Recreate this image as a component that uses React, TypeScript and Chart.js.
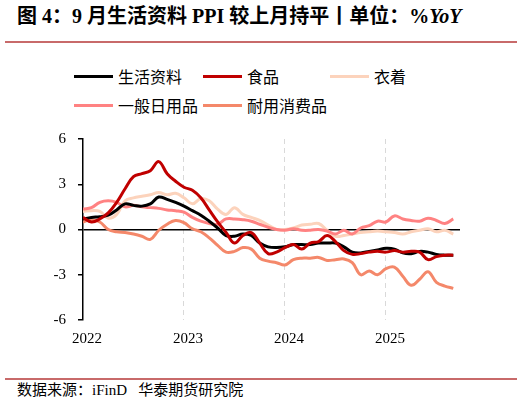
import { useEffect, useRef } from "react";
import Chart from "chart.js/auto";

// Jan 2022 .. Sep 2025, monthly
const months = Array.from({ length: 45 }, (_, i) => i);
const yearTicks = ["2022", "2023", "2024", "2025"];

const living = [
  0.7, 0.8, 0.85, 0.95, 1.3, 1.7, 1.6, 1.55, 1.7, 2.15, 2.0, 1.8,
  1.55, 1.25, 0.95, 0.55, 0.1, -0.4, -0.45, -0.3, -0.4, -0.9, -1.15, -1.2,
  -1.15, -1.0, -1.0, -1.0, -0.9, -0.9, -0.9, -1.15, -1.5, -1.55, -1.45, -1.35,
  -1.25, -1.3, -1.55, -1.6, -1.45, -1.5, -1.65, -1.7, -1.7,
];
const food = [
  0.8, 0.5, 0.7, 1.1, 1.8, 2.7, 3.5, 3.7, 3.9, 4.5, 3.7, 3.2,
  2.8, 2.6, 2.1, 1.3, 0.5, -0.2, -0.9, -0.4, -0.2, -0.9, -1.6, -1.5,
  -1.2, -1.0, -1.3, -0.9, -0.8, -0.4, -0.8, -1.4, -1.65, -1.6, -1.5, -1.45,
  -1.5, -1.4, -1.5, -1.45, -1.5, -2.0, -1.8, -1.7, -1.7,
];
const clothing = [
  1.2, 1.25, 1.2, 0.75, 1.0, 1.9, 2.1, 2.2, 2.3, 2.45, 2.3, 2.4,
  2.1, 1.7, 2.05, 1.9, 1.35, 1.0, 1.45, 1.0, 0.8, 0.6, 0.3, 0.0,
  0.0, 0.1, 0.3, 0.35, 0.4, -0.05, -0.45, -0.4, -0.3, -0.2, -0.15, -0.1,
  -0.15, -0.2, -0.3, -0.15, -0.05, 0.05, -0.15, -0.05, -0.3,
];
const daily = [
  1.35, 1.45, 1.8, 1.9, 1.8, 1.5, 1.6, 1.5, 1.45, 1.4, 1.3, 1.25,
  1.15, 0.8, 0.55, 0.4, 0.35, 0.7, 0.7, 0.65, 0.55, 0.35, 0.15, 0.0,
  -0.05, 0.05, -0.05, -0.05, 0.0, -0.1, -0.3, -0.05, -0.3, 0.1, 0.25, 0.55,
  0.5, 0.9, 0.7, 0.6, 0.55, 0.75, 0.6, 0.4, 0.7,
];
const durable = [
  0.5, 0.65, 0.5, 0.0, -0.15, -0.2, -0.3, -0.45, -0.65, -0.05, 0.35, 0.6,
  0.45, 0.05, -0.15, -0.55, -1.05, -1.5, -1.45, -1.2, -1.3, -1.9, -2.1, -2.2,
  -2.35, -2.0, -1.9, -1.9, -1.85, -2.05, -2.0, -1.95, -2.2, -3.0, -2.75, -3.0,
  -2.6, -2.5, -3.1, -3.7, -3.3, -2.8, -3.5, -3.75, -3.9,
];

const series = [
  { label: "生活资料", data: living, color: "#000000" },
  { label: "食品", data: food, color: "#C00000" },
  { label: "衣着", data: clothing, color: "#FCD3BC" },
  { label: "一般日用品", data: daily, color: "#FF8282" },
  { label: "耐用消费品", data: durable, color: "#F4886A" },
];
// order in which lines are stacked (last = on top)
const drawOrder = [2, 3, 4, 0, 1];

const cjk = '"Noto Sans CJK SC", sans-serif';
const serif = '"Liberation Serif", "Noto Sans CJK SC", serif';

const LineChart = () => {
  const canvasRef = useRef<HTMLCanvasElement>(null);

  useEffect(() => {
    if (!canvasRef.current) return;
    const chart = new Chart(canvasRef.current, {
      type: "line",
      data: {
        datasets: drawOrder.map((k, n) => ({
          label: series[k].label,
          data: series[k].data.map((v, i) => ({ x: months[i], y: v })),
          borderColor: series[k].color,
          borderWidth: 3,
          pointRadius: 0,
          tension: 0.4,
          order: drawOrder.length - n,
        })),
      },
      options: {
        animation: false,
        responsive: false,
        maintainAspectRatio: false,
        layout: { padding: { top: 10, right: 62, left: 0, bottom: 0 } },
        plugins: { legend: { display: false }, tooltip: { enabled: false } },
        scales: {
          x: {
            type: "linear",
            min: 0,
            max: 44.8,
            border: { display: false },
            grid: {
              drawTicks: false,
              color: (c) => (c.tick && c.tick.value === 0 ? "rgba(0,0,0,0)" : "#D9D9D9"),
              lineWidth: 1,
            },
            afterFit: (s) => {
              s.height = 35;
            },
            afterBuildTicks: (s) => {
              s.ticks = [0, 12, 24, 36].map((v) => ({ value: v }));
            },
            ticks: {
              color: "#000",
              padding: 10,
              labelOffset: 4,
              font: { family: serif, size: 15 },
              maxRotation: 0,
              callback: (v) => yearTicks[Number(v) / 12] ?? "",
            },
          },
          y: {
            min: -6,
            max: 6,
            border: { display: true, color: "#000", width: 1.5 },
            grid: {
              color: (c) => (c.tick && c.tick.value === 0 ? "#000" : "rgba(0,0,0,0)"),
              tickColor: "#000",
              tickLength: 5,
              lineWidth: 1.5,
            },
            afterFit: (s) => {
              s.width = 83;
            },
            ticks: {
              stepSize: 3,
              color: "#000",
              padding: 12,
              font: { family: serif, size: 15 },
            },
          },
        },
      },
    });
    // dashed vertical gridlines
    const xs = chart.options.scales!.x as any;
    xs.grid.tickBorderDash = [5, 4];
    xs.border.dash = [5, 4];
    xs.grid.borderDash = [5, 4];
    chart.update();
    return () => chart.destroy();
  }, []);

  return <canvas ref={canvasRef} width={522} height={237} style={{ display: "block" }} />;
};

const LegendItem = ({ label, color }: { label: string; color: string }) => (
  <div style={{ display: "flex", alignItems: "center" }}>
    <span style={{ width: 39, height: 3, background: color, display: "inline-block" }} />
    <span style={{ marginLeft: 5, fontSize: 16, lineHeight: "20px", fontFamily: cjk }}>{label}</span>
  </div>
);

const App = () => {
  const cols = [74, 203, 330];
  return (
    <div
      style={{
        position: "absolute",
        left: 0,
        top: 0,
        width: 522,
        height: 404,
        background: "#fff",
        overflow: "hidden",
      }}
    >
      <div
        style={{
          position: "absolute",
          left: 17,
          top: 4,
          fontFamily: serif,
          fontWeight: "bold",
          fontSize: 20,
          lineHeight: "24px",
          whiteSpace: "nowrap",
          color: "#000",
        }}
      >
        图 4：9 月生活资料 PPI 较上月持平丨单位：%<i>YoY</i>
      </div>
      <div style={{ position: "absolute", left: 5, top: 41, width: 512, height: 2, background: "#C86A6A" }} />
      {series.map((s, i) => (
        <div
          key={s.label}
          style={{ position: "absolute", left: cols[i % 3], top: i < 3 ? 66 : 95 }}
        >
          <LegendItem label={s.label} color={s.color} />
        </div>
      ))}
      <div style={{ position: "absolute", left: 0, top: 118 }}>
        <LineChart />
      </div>
      <div style={{ position: "absolute", left: 5, top: 378, width: 512, height: 2, background: "#C86A6A" }} />
      <div
        style={{
          position: "absolute",
          left: 17,
          top: 380,
          fontFamily: serif,
          fontSize: 15,
          lineHeight: "20px",
          whiteSpace: "nowrap",
          color: "#000",
        }}
      >
        数据来源：iFinD&nbsp;&nbsp;&nbsp;华泰期货研究院
      </div>
    </div>
  );
};

export default App;
